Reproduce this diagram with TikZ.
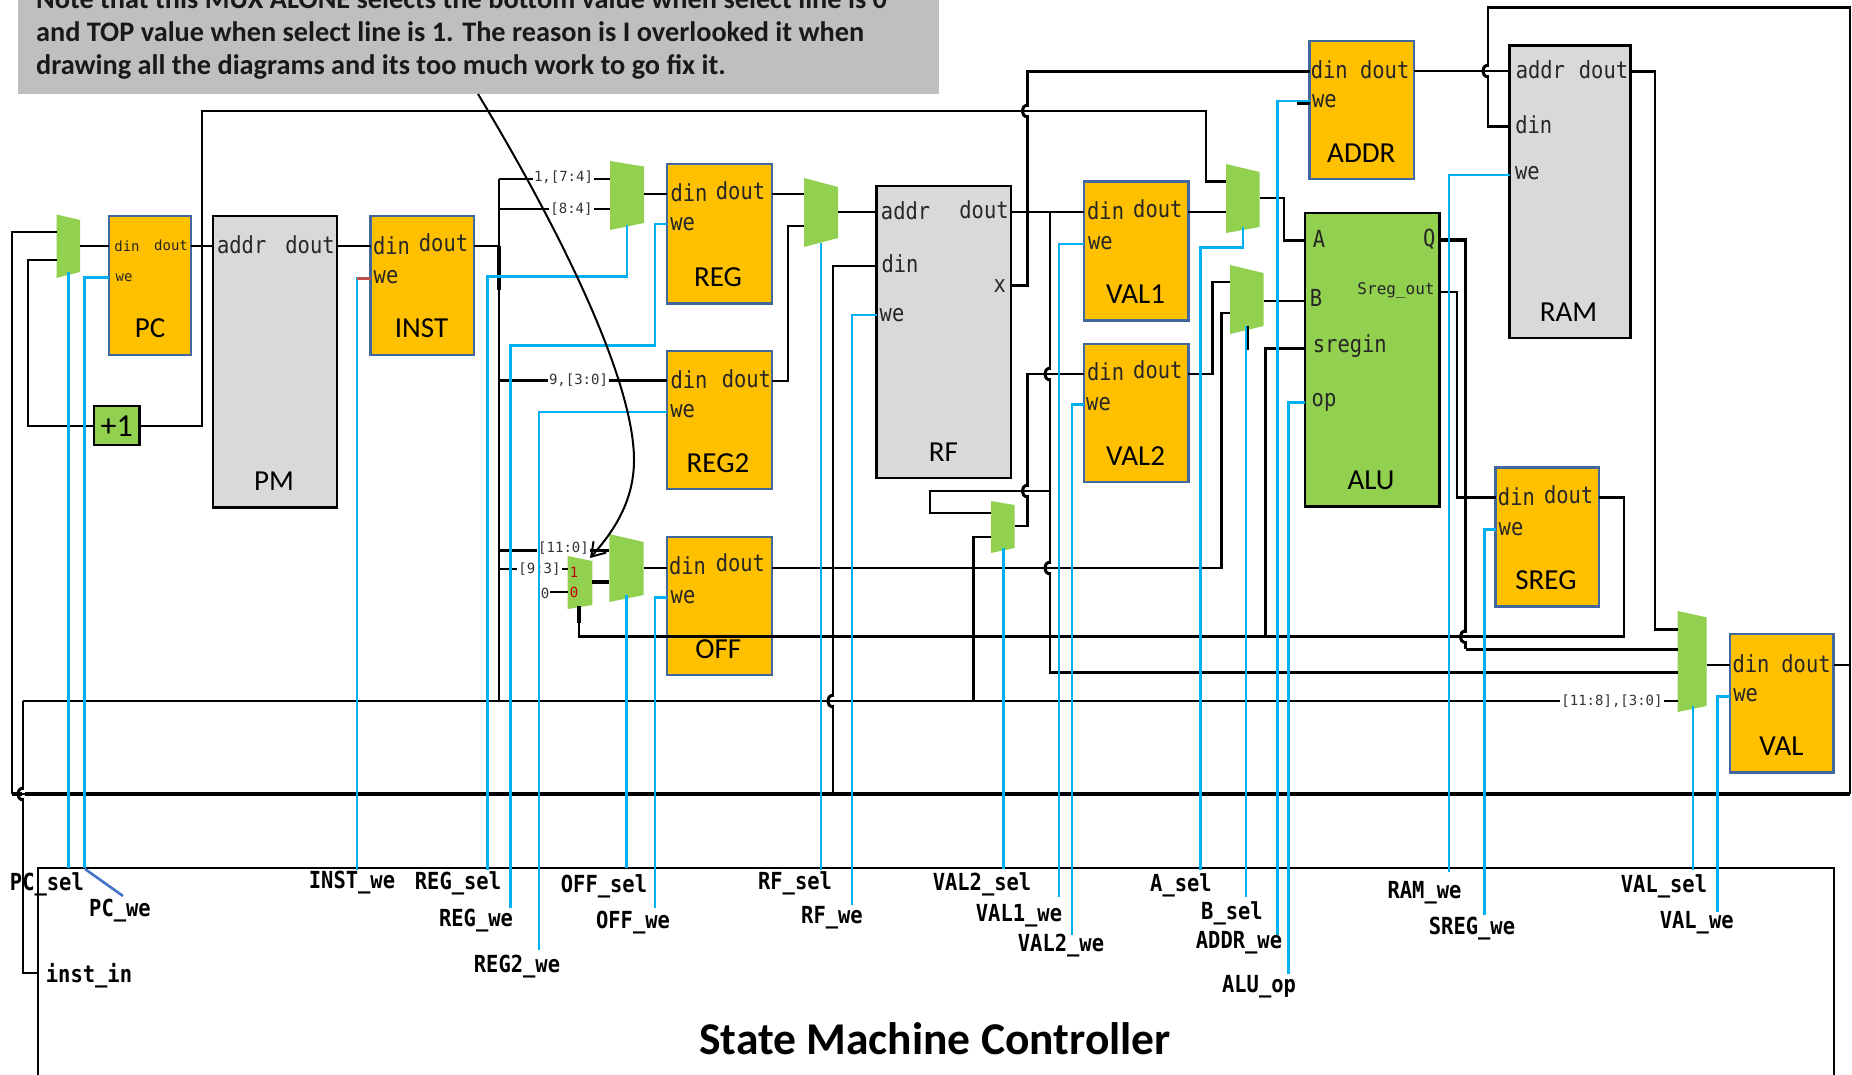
\documentclass[tikz,border=0pt]{standalone}
\usepackage{fontspec}
\setmainfont{Carlito}
\newfontfamily\monof{DejaVu Sans Mono}
\newfontfamily\monotall[FakeStretch=0.87]{DejaVu Sans Mono}
\usetikzlibrary{arrows.meta}
\definecolor{orangeb}{HTML}{FFC000}
\definecolor{edgeb}{HTML}{41679C}
\definecolor{greyb}{HTML}{D9D9D9}
\definecolor{greenb}{HTML}{92D050}
\definecolor{bluew}{HTML}{00B0F0}
\definecolor{noteg}{HTML}{BFBFBF}
\definecolor{redw}{HTML}{C0504D}
\definecolor{diag}{HTML}{4472C4}
\definecolor{numred}{HTML}{C00000}
\tikzset{
  regb/.style={draw=edgeb,line width=2.6pt,fill=orangeb},
  memb/.style={draw=black,line width=2.8pt,fill=greyb},
  alub/.style={draw=black,line width=2.6pt,fill=greenb},
  noteb/.style={fill=noteg},
  ctrlb/.style={draw=black,line width=2.2pt},
  muxfill/.style={fill=greenb},
  wire/.style={draw=black,line width=2.5pt,line join=miter},
  thick wire/.style={draw=black,line width=4pt},
  ctl/.style={draw=bluew,line width=2.5pt},
  port/.style={inner sep=0pt,font=\monotall\fontsize{23.5}{26}\selectfont,text=black!85},
  sport/.style={inner sep=0pt,font=\monof\fontsize{14}{16}\selectfont,text=black!85},
  blockname/.style={inner sep=0pt,font=\fontsize{29}{32}\selectfont,text=black},
  sig/.style={inner sep=0pt,font=\monotall\bfseries\fontsize{23.5}{26}\selectfont,text=black},
  bits/.style={inner sep=1pt,fill=white,font=\monof\fontsize{14}{16}\selectfont,text=black!80},
  notet/.style={inner sep=0pt,anchor=base west,font=\bfseries\fontsize{28.3}{30}\selectfont,text=black!90},
}
\newcommand\blockat[6]{\node[#1,inner sep=0pt,outer sep=0pt,minimum width={(#5-#3)*1pt},minimum height={(#6-#4)*1pt}] (#2) at ({(#3+#5)/2},{(#4+#6)/2}) {};}
\newcommand\muxat[7]{\fill[muxfill] (#2,#4) -- (#3,#6) -- (#3,#7) -- (#2,#5) -- cycle;
  \node[inner sep=0pt,outer sep=0pt,minimum width={(#3-#2)*1pt},minimum height={(#5-#4)*1pt}] (#1) at ({(#2+#3)/2},{(#4+#5)/2}) {};}
\newcommand\hop[2]{\draw[white,line width=3pt] (#1,#2-4) -- (#1,#2+4);
  \draw[wire] (#1-7,#2) -- (#1+7,#2);
  \draw[draw=black,line width=3pt] (#1,#2-6) .. controls (#1-7,#2-5) and (#1-7,#2+5) .. (#1,#2+6);}
\begin{document}
\begin{tikzpicture}[x=1pt,y=-1pt]
\path[use as bounding box,clip] (0,0) rectangle (1852,1074);
\fill[white] (0,0) rectangle (1852,1074);

% note
\blockat{noteb}{Note}{18}{-20}{939}{94}
\node[notet] (NoteA) at (36,8) {Note that this MUX ALONE selects the bottom value when select line is 0};
\node[notet] (NoteB) at (36,41) {and TOP value when select line is 1. The reason is I overlooked it when};
\node[notet] (NoteC) at (36,74) {drawing all the diagrams and its too much work to go fix it.};

% controller
\blockat{ctrlb}{Ctrl}{38}{868}{1834}{1095}

% blocks
\blockat{regb}{PC}{109}{216}{191}{355}
\blockat{memb}{PM}{213}{216}{337}{507.5}
\blockat{regb}{INST}{370.5}{216}{474}{355}
\blockat{regb}{REG}{667}{164}{772}{303.5}
\blockat{regb}{REGtwo}{667}{351}{772}{489}
\blockat{regb}{OFF}{667}{537}{772}{675}
\blockat{memb}{RF}{876.5}{186}{1011}{478}
\blockat{regb}{VALone}{1084}{181.7}{1188.4}{320.7}
\blockat{regb}{VALtwo}{1084}{344}{1188.4}{482}
\blockat{regb}{ADDR}{1309.5}{41}{1414}{179}
\blockat{alub}{ALU}{1305}{213}{1439.6}{506.7}
\blockat{memb}{RAM}{1509.5}{45.7}{1630.4}{338}
\blockat{regb}{SREG}{1495.7}{467.7}{1599}{606.7}
\blockat{regb}{VAL}{1730}{634}{1833.7}{772.7}
\blockat{alub}{Inc}{94}{406}{139.6}{445}

% muxes
\muxat{MuxPC}{56.5}{80}{214.5}{278}{220}{272}
\muxat{MuxREG}{610}{644}{161}{230}{166.5}{223}
\muxat{MuxRF}{804}{838}{178}{247}{187}{238}
\muxat{MuxSel}{567.7}{592.3}{556}{609}{561}{605}
\muxat{MuxOFF}{609.3}{643.7}{534}{602}{542}{595}
\muxat{MuxVtwo}{991}{1014.6}{501}{553}{505}{548}
\muxat{MuxA}{1226}{1259.6}{164}{233}{172}{227}
\muxat{MuxB}{1230}{1263.5}{265}{334}{273}{326}
\muxat{MuxVAL}{1677.7}{1706.5}{611}{712}{617.3}{706}

% bit-field labels
\node[bits] (BitsA) at (563.5,177) {1,[7:4]};
\node[bits] (BitsB) at (571.5,209) {[8:4]};
\node[bits] (BitsC) at (578.5,380.5) {9,[3:0]};
\node[bits] (BitsD) at (563.5,548) {[11:0]};
\node[bits] (BitsE) at (539.5,569) {[9:3]};
\node[bits] (BitsF) at (545,593) {0};
\node[bits] (BitsG) at (1612,701) {[11:8],[3:0]};

% black wires
\draw[wire] (MuxPC.west |- 0,232) -- (12,232) -- (12,794);
\draw[wire] (MuxPC.west |- 0,260) -- (28,260) -- (28,426) -- (Inc.west |- 0,426);
\draw[wire] (MuxPC.east |- 0,246) -- (PC.west |- 0,246);
\draw[wire] (PC.east |- 0,246) -- (PM.west |- 0,246);
\draw[wire] (PM.east |- 0,246) -- (INST.west |- 0,246);
\draw[wire] (Inc.east |- 0,426) -- (202,426) -- (202,111) -- (1206,111) -- (1206,181.5) -- (MuxA.west |- 0,181.5);
\draw[wire] (INST.east |- 0,246) -- (499,246);
\draw[wire] (499,179) -- (499,701);
\draw[line width=3.6pt] (499,246) -- (499,290);
\draw[wire] (499,179) -- (BitsA.west |- 0,179);
\draw[wire] (BitsA.east |- 0,179) -- (MuxREG.west |- 0,179);
\draw[wire] (499,209) -- (BitsB.west |- 0,209);
\draw[wire] (BitsB.east |- 0,209) -- (MuxREG.west |- 0,209);
\draw[wire] (499,380.5) -- (BitsC.west |- 0,380.5);
\draw[wire] (BitsC.east |- 0,380.5) -- (REGtwo.west |- 0,380.5);
\draw[wire] (499,550.7) -- (BitsD.west |- 0,550.7);
\draw[wire] (BitsD.east |- 0,550.7) -- (MuxOFF.west |- 0,550.7);
\draw[wire] (499,569) -- (BitsE.west |- 0,569);
\draw[wire] (BitsE.east |- 0,569) -- (MuxSel.west |- 0,569);
\draw[wire] (BitsF.east |- 0,592) -- (MuxSel.west |- 0,592);
\draw[thick wire] (MuxSel.east |- 0,582) -- (MuxOFF.west |- 0,582);
\draw[wire] (MuxOFF.east |- 0,568) -- (OFF.west |- 0,568);
\draw[wire] (MuxREG.east |- 0,194) -- (REG.west |- 0,194);
\draw[wire] (REG.east |- 0,194) -- (MuxRF.west |- 0,194);
\draw[wire] (REGtwo.east |- 0,381) -- (788,381) -- (788,226) -- (MuxRF.west |- 0,226);
\draw[wire] (MuxRF.east |- 0,212) -- (RF.west |- 0,212);
\draw[wire] (RF.west |- 0,266) -- (833,266) -- (833,794);
\draw[wire] (RF.east |- 0,285.7) -- (1027.5,285.7) -- (1027.5,71.7) -- (ADDR.west |- 0,71.7);
\draw[wire] (RF.east |- 0,212) -- (VALone.west |- 0,212);
\draw[wire] (1050,212) -- (1050,672.7) -- (MuxVAL.west |- 0,672.7);
\draw[wire] (VALtwo.west |- 0,374) -- (1027.5,374) -- (1027.5,526) -- (MuxVtwo.east |- 0,526);
\draw[wire] (1050,491) -- (930,491) -- (930,513) -- (MuxVtwo.west |- 0,513);
\draw[wire] (MuxVtwo.west |- 0,537) -- (973.5,537) -- (973.5,701);
\draw[wire] (OFF.east |- 0,568) -- (1221.7,568) -- (1221.7,313) -- (MuxB.west |- 0,313);
\draw[wire] (VALone.east |- 0,212) -- (MuxA.west |- 0,212);
\draw[wire] (VALtwo.east |- 0,374) -- (1212.5,374) -- (1212.5,282) -- (MuxB.west |- 0,282);
\draw[wire] (MuxA.east |- 0,198) -- (1284,198) -- (1284,240.7) -- (ALU.west |- 0,240.7);
\draw[wire] (MuxB.east |- 0,301) -- (ALU.west |- 0,301);
\draw[wire] (ALU.west |- 0,348.7) -- (1265.5,348.7) -- (1265.5,636.7);
\draw[draw=black,line width=3.2pt] (ALU.east |- 0,240) -- (1465.5,240) -- (1465.5,649.3);
\draw[wire] (1465.5,649.3) -- (MuxVAL.west |- 0,649.3);
\draw[wire] (ALU.east |- 0,292) -- (1457,292) -- (1457,497.7) -- (SREG.west |- 0,497.7);
\draw[wire] (SREG.east |- 0,497.7) -- (1624,497.7) -- (1624,636.7) -- (579,636.7) -- (579,623);
\draw[draw=black,line width=4pt] (579,623) -- (579,606);
\draw[wire] (ADDR.east |- 0,71) -- (RAM.west |- 0,71);
\draw[wire] (RAM.west |- 0,126.7) -- (1488,126.7) -- (1488,7.7) -- (1850,7.7) -- (1850,794);
\draw[wire] (RAM.east |- 0,71.3) -- (1655,71.3) -- (1655,629.3) -- (MuxVAL.west |- 0,629.3);
\draw[wire] (VAL.east |- 0,665) -- (1850,665);
\draw[wire] (MuxVAL.east |- 0,665) -- (VAL.west |- 0,665);
\draw[wire] (23,701) -- (BitsG.west |- 0,701);
\draw[wire] (BitsG.east |- 0,701) -- (MuxVAL.west |- 0,701);
\draw[wire] (23,701) -- (23,973) -- (Ctrl.west |- 0,973);
\draw[thick wire] (12,794) -- (1850,794);
% little stubs
\draw[wire] (ADDR.west |- 0,103.7) -- ++(-13,0);
\draw[draw=black,line width=3pt] (1247.8,326) -- (1247.8,350);
\draw[draw=black,line width=2pt] (68.7,272) -- (68.7,290);

% crossings
\hop{23}{794}
\hop{833}{701}
\hop{1050}{374}
\hop{1027.5}{491}
\hop{1027.5}{111}
\hop{1050}{568}
\hop{1488}{71}
\hop{1465.5}{636.7}

% control wires
\draw[ctl] (MuxPC.south |- 0,272) -- (MuxPC.south |- Ctrl.north);
\draw[ctl] (PC.west |- 0,277.5) -- (84.6,277.5) -- (84.6,868);
\draw[draw=diag,line width=2.6pt] (85,869) -- (123,896);
\draw[ctl] (INST.west |- 0,278) -- (357,278) -- (357,870);
\draw[draw=redw,line width=3pt] (INST.west |- 0,278) -- (357,278);
\draw[ctl] (627,225) -- (627,276.5) -- (487.5,276.5) -- (487.5,870);
\draw[ctl] (REG.west |- 0,224) -- (655,224) -- (655,345.5) -- (510.7,345.5) -- (510.7,908);
\draw[ctl] (REGtwo.west |- 0,412) -- (539,412) -- (539,950);
\draw[ctl] (626.5,595) -- (626.5,868);
\draw[ctl] (OFF.west |- 0,597.7) -- (655,597.7) -- (655,908);
\draw[ctl] (821,243) -- (821,870);
\draw[ctl] (RF.west |- 0,315) -- (852,315) -- (852,905);
\draw[ctl] (1003.5,548) -- (1003.5,869);
\draw[ctl] (VALone.west |- 0,244) -- (1059,244) -- (1059,897);
\draw[ctl] (VALtwo.west |- 0,404.7) -- (1072,404.7) -- (1072,934.7);
\draw[ctl] (1242.8,227) -- (1242.8,247.7) -- (1200.4,247.7) -- (1200.4,870);
\draw[ctl] (1246,326) -- (1246,897);
\draw[ctl] (ADDR.west |- 0,101) -- (1277.6,101) -- (1277.6,934.7);
\draw[ctl] (ALU.west |- 0,402.7) -- (1288.7,402.7) -- (1288.7,974);
\draw[ctl] (RAM.west |- 0,175) -- (1449,175) -- (1449,871.7);
\draw[ctl] (SREG.west |- 0,529.3) -- (1484.7,529.3) -- (1484.7,915);
\draw[ctl] (1692.8,706) -- (1692.8,870);
\draw[ctl] (VAL.west |- 0,696.7) -- (1717.6,696.7) -- (1717.6,911.7);

% annotation arrow
\coordinate (ArrowTip) at (590,558);
\draw[draw=black,line width=2pt,-{Straight Barb[length=13pt,width=17pt,line width=2pt]}] (478,0 |- Note.south) .. controls (560,230) and (634,380) .. (634,460) .. controls (634,500) and (615,530) .. (ArrowTip);

% port text
\node[sport] (PCdin) at (127,246) {din};
\node[sport] (PCdout) at (171,245) {dout};
\node[sport] (PCwe) at (124,278) {we};
\node[blockname] (PCn) at (150,328) {PC};
\node[port] (PMaddr) at (241.7,244.5) {addr};
\node[port] (PMdout) at (310,244.5) {dout};
\node[blockname] (PMn) at (274,481) {PM};
\node[port] (INSTdin) at (391.5,246) {din};
\node[port] (INSTdout) at (443.5,243) {dout};
\node[port] (INSTwe) at (386,277) {we};
\node[blockname] (INSTn) at (421.5,328) {INST};
\node[port] (REGdin) at (689,192.5) {din};
\node[port] (REGdout) at (740.5,191) {dout};
\node[port] (REGwe) at (682.6,224.4) {we};
\node[blockname] (REGn) at (718,277.5) {REG};
\node[port] (RTdin) at (689,380) {din};
\node[port] (RTdout) at (746.4,379) {dout};
\node[port] (RTwe) at (682.6,411) {we};
\node[blockname] (RTn) at (718,463) {REG2};
\node[port] (OFFdin) at (687.5,565.7) {din};
\node[port] (OFFdout) at (740.4,563) {dout};
\node[port] (OFFwe) at (683,597) {we};
\node[blockname] (OFFn) at (718.4,649) {OFF};
\node[port] (RFaddr) at (905.6,210.7) {addr};
\node[port] (RFdout) at (984,210) {dout};
\node[port] (RFdin) at (900,264) {din};
\node[port] (RFx) at (999.8,285.7) {x};
\node[port] (RFwe) at (892,315) {we};
\node[blockname] (RFn) at (943.5,451.7) {RF};
\node[port] (VOdin) at (1105.6,211) {din};
\node[port] (VOdout) at (1157.8,209) {dout};
\node[port] (VOwe) at (1100.4,242.7) {we};
\node[blockname] (VOn) at (1135.6,294.3) {VAL1};
\node[port] (VTdin) at (1105.6,372) {din};
\node[port] (VTdout) at (1157.8,370) {dout};
\node[port] (VTwe) at (1098.5,404) {we};
\node[blockname] (VTn) at (1135.6,455.7) {VAL2};
\node[port] (ADdin) at (1329.3,70) {din};
\node[port] (ADdout) at (1384.7,70) {dout};
\node[port] (ADwe) at (1324.3,101) {we};
\node[blockname] (ADn) at (1361.3,152.7) {ADDR};
\node[port] (RAaddr) at (1540.4,70) {addr};
\node[port] (RAdout) at (1603.5,70) {dout};
\node[port] (RAdin) at (1533.7,124.3) {din};
\node[port] (RAwe) at (1527.4,173.3) {we};
\node[blockname] (RAn) at (1568.6,311.7) {RAM};
\node[port] (ALa) at (1319,239.3) {A};
\node[port] (ALb) at (1316,298.3) {B};
\node[port] (ALs) at (1349.8,345.7) {sregin};
\node[port] (ALo) at (1324,402.7) {op};
\node[port] (ALq) at (1429.3,239.3) {Q};
\node[inner sep=0pt,font=\monof\fontsize{16}{18}\selectfont,text=black!85] (ALso) at (1396,290.7) {Sreg\_out};
\node[blockname] (ALn) at (1371,480) {ALU};
\node[port] (SRdin) at (1516.4,496.7) {din};
\node[port] (SRdout) at (1568.6,494.3) {dout};
\node[port] (SRwe) at (1511,529) {we};
\node[blockname] (SRn) at (1546,580) {SREG};
\node[port] (VLdin) at (1751,664) {din};
\node[port] (VLdout) at (1806,664) {dout};
\node[port] (VLwe) at (1745.6,695) {we};
\node[blockname] (VLn) at (1781.5,746) {VAL};
\node[inner sep=0pt,font=\fontsize{32}{34}\selectfont,text=black] (Incn) at (116.8,426) {+1};
\node[sport,text=numred] (SelOne) at (574,572) {1};
\node[sport,text=numred] (SelZero) at (574,592) {0};

% signal labels
\node[sig] (sPCsel) at (46.9,884) {PC\_sel};
\node[sig] (sPCwe) at (120,911) {PC\_we};
\node[sig] (sINSTwe) at (352,883) {INST\_we};
\node[sig] (sREGsel) at (458,883) {REG\_sel};
\node[sig] (sREGwe) at (476,920.7) {REG\_we};
\node[sig] (sREGtwowe) at (517,966.7) {REG2\_we};
\node[sig] (sOFFsel) at (604,886) {OFF\_sel};
\node[sig] (sOFFwe) at (633,923) {OFF\_we};
\node[sig] (sInstin) at (89,976) {inst\_in};
\node[sig] (sRFsel) at (795,883) {RF\_sel};
\node[sig] (sRFwe) at (832,917.7) {RF\_we};
\node[sig] (sVTsel) at (982,884) {VAL2\_sel};
\node[sig] (sVOwe) at (1019,915.7) {VAL1\_we};
\node[sig] (sVTwe) at (1061,946) {VAL2\_we};
\node[sig] (sAsel) at (1181,885) {A\_sel};
\node[sig] (sBsel) at (1232,913) {B\_sel};
\node[sig] (sADwe) at (1239,942.7) {ADDR\_we};
\node[sig] (sALop) at (1259,986.7) {ALU\_op};
\node[sig] (sRAMwe) at (1424.5,893) {RAM\_we};
\node[sig] (sSRwe) at (1472,929) {SREG\_we};
\node[sig] (sVLsel) at (1664,886) {VAL\_sel};
\node[sig] (sVLwe) at (1696.7,923) {VAL\_we};
\node[inner sep=0pt,font=\bfseries\fontsize{45.5}{48}\selectfont,text=black] (Title) at (935,1039) {State Machine Controller};
\end{tikzpicture}
\end{document}
